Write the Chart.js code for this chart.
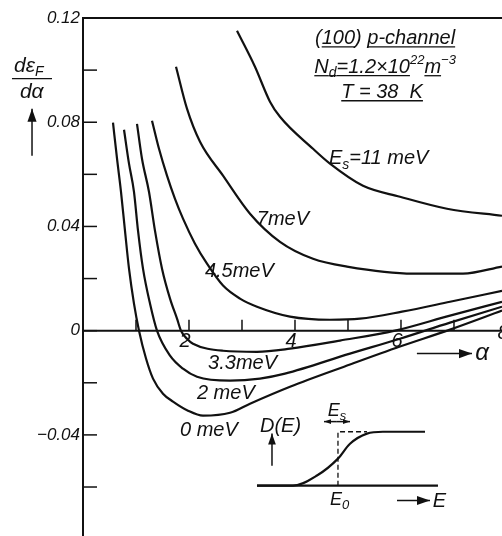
<!DOCTYPE html>
<html>
<head>
<meta charset="utf-8">
<script src="https://cdn.jsdelivr.net/npm/chart.js@4.4.1/dist/chart.umd.min.js"></script>
<style>
html, body { margin: 0; padding: 0; background: #fff; }
#wrap { width: 502px; height: 536px; }
</style>
</head>
<body>
<div id="wrap"><canvas id="chart" width="502" height="536"></canvas></div>
<script>
// d(eps_F)/d(alpha) against alpha, one pair of lists per Es
var alpha0 = [0.566, 0.642, 0.717, 0.792, 0.868, 0.962, 1.057, 1.189, 1.321, 1.509, 1.698, 1.981, 2.264, 2.774, 3.151, 3.906, 5.038, 5.981, 6.925, 7.906];
var slope0 = [0.0798, 0.0660, 0.0533, 0.0384, 0.0238, 0.0104, 0, -0.0107, -0.0184, -0.0242, -0.0272, -0.0307, -0.0326, -0.0315, -0.0280, -0.0215, -0.0130, -0.0061, 0.0004, 0.0077];

var alpha2 = [0.774, 0.868, 0.962, 1.038, 1.132, 1.264, 1.396, 1.642, 1.887, 2.151, 2.774, 3.340, 3.811, 5.038, 5.981, 6.925, 7.906];
var slope2 = [0.0771, 0.0641, 0.0533, 0.0384, 0.0238, 0.0104, 0, -0.0096, -0.0146, -0.0177, -0.0192, -0.0184, -0.0165, -0.0088, -0.0031, 0.0031, 0.0092];

var alpha33 = [1.019, 1.113, 1.245, 1.358, 1.491, 1.642, 1.774, 1.849, 1.962, 2.075, 2.642, 3.283, 3.906, 4.849, 5.887, 6.925, 7.906];
var slope33 = [0.0794, 0.0660, 0.0533, 0.0384, 0.0238, 0.0123, 0.0046, 0, -0.0031, -0.0050, -0.0077, -0.0081, -0.0069, -0.0038, 0, 0.0058, 0.0111];

var alpha45 = [1.302, 1.434, 1.585, 1.736, 1.887, 2.113, 2.340, 2.642, 2.962, 3.283, 3.906, 4.660, 5.226, 6.019, 6.925, 7.906];
var slope45 = [0.0806, 0.0698, 0.0595, 0.0506, 0.0430, 0.0334, 0.0257, 0.0173, 0.0123, 0.0092, 0.0054, 0.0042, 0.0046, 0.0073, 0.0111, 0.0153];

var alpha7 = [1.755, 1.962, 2.208, 2.642, 3.151, 3.717, 4.340, 4.981, 6.226, 7.170, 7.906];
var slope7 = [0.1013, 0.0852, 0.0725, 0.0595, 0.0449, 0.0341, 0.0276, 0.0246, 0.0219, 0.0219, 0.0246];

var alpha11 = [2.906, 3.245, 3.528, 3.717, 4.340, 4.660, 5.283, 5.981, 6.868, 7.906];
var slope11 = [0.1151, 0.1013, 0.0879, 0.0821, 0.0698, 0.0641, 0.0556, 0.0514, 0.0468, 0.0441];

// inset sketch of D(E), drawn in the same units
var insetBaseX = [3.283, 6.698];
var insetBaseY = [-0.0595, -0.0595];
var insetStepX = [3.283, 3.962, 4.415, 4.811, 5.038, 5.358, 5.660, 6.453];
var insetStepY = [-0.0595, -0.0595, -0.0556, -0.0491, -0.0434, -0.0395, -0.0388, -0.0388];
var insetDashX = [4.811, 4.811, 5.358];
var insetDashY = [-0.0595, -0.0388, -0.0388];

var yMajor = [0.12, 0.08, 0.04, 0, -0.04];
var yTickLabels = ['0.12', '0.08', '0.04', '0', '\u22120.04'];
var yMinor = [0.10, 0.06, 0.02, -0.02, -0.06];
var xTicks = [1, 2, 3, 4, 5, 6, 7];
var xLabelTicks = [2, 4, 6, 8];
var xTickLabels = ['2', '4', '6', '8'];

var FONT = '"Liberation Sans", Arial, sans-serif';
var INK = '#111';

function pts(xs, ys) {
    return xs.map(function (x, i) { return { x: x, y: ys[i] }; });
}

function curve(xs, ys) {
    return {
        data: pts(xs, ys),
        showLine: true,
        borderColor: INK,
        borderWidth: 2.2,
        pointRadius: 0,
        cubicInterpolationMode: 'monotone',
        fill: false
    };
}

var insetBase = curve(insetBaseX, insetBaseY);
insetBase.cubicInterpolationMode = 'default';
insetBase.tension = 0;
var insetDash = curve(insetDashX, insetDashY);
insetDash.cubicInterpolationMode = 'default';
insetDash.tension = 0;
insetDash.borderWidth = 1.3;
insetDash.borderDash = [5, 3];

var figure = {
    id: 'figure',
    afterDatasetsDraw: function (chart) {
        var c = chart.ctx, area = chart.chartArea;
        var xs = chart.scales.x, ys = chart.scales.y;
        function X(v) { return xs.getPixelForValue(v); }
        function Y(v) { return ys.getPixelForValue(v); }

        function rich(parts, x, y, align) {
            var w = 0;
            parts.forEach(function (p) {
                c.font = 'italic ' + p[1] + 'px ' + FONT;
                w += c.measureText(p[0]).width;
            });
            var cx = align === 'center' ? x - w / 2 : x;
            parts.forEach(function (p) {
                c.font = 'italic ' + p[1] + 'px ' + FONT;
                var pw = c.measureText(p[0]).width;
                c.fillText(p[0], cx, y + (p[2] || 0));
                if (p[3]) {
                    c.lineWidth = 1.3;
                    c.beginPath(); c.moveTo(cx, y + 3); c.lineTo(cx + pw, y + 3); c.stroke();
                }
                cx += pw;
            });
        }

        function arrow(x1, y1, x2, y2, head) {
            var a = Math.atan2(y2 - y1, x2 - x1);
            c.lineWidth = 1.5;
            c.beginPath(); c.moveTo(x1, y1); c.lineTo(x2, y2); c.stroke();
            c.beginPath();
            c.moveTo(x2, y2);
            c.lineTo(x2 - head * Math.cos(a) + head * 0.35 * Math.sin(a), y2 - head * Math.sin(a) - head * 0.35 * Math.cos(a));
            c.lineTo(x2 - head * Math.cos(a) - head * 0.35 * Math.sin(a), y2 - head * Math.sin(a) + head * 0.35 * Math.cos(a));
            c.closePath(); c.fill();
        }

        c.save();
        c.strokeStyle = INK;
        c.fillStyle = INK;
        c.textBaseline = 'alphabetic';

        // left axis and top edge
        c.lineWidth = 2;
        c.beginPath();
        c.moveTo(area.left, area.bottom);
        c.lineTo(area.left, area.top);
        c.lineTo(area.right, area.top);
        c.stroke();
        // alpha axis along zero
        c.beginPath(); c.moveTo(area.left, Y(0)); c.lineTo(area.right, Y(0)); c.stroke();

        c.lineWidth = 1.5;
        yMajor.concat(yMinor).forEach(function (v) {
            c.beginPath(); c.moveTo(area.left, Y(v)); c.lineTo(area.left + 14, Y(v)); c.stroke();
        });
        xTicks.forEach(function (v) {
            c.beginPath(); c.moveTo(X(v), Y(0)); c.lineTo(X(v), Y(0) - 11); c.stroke();
        });

        c.font = 'italic 17px ' + FONT;
        c.textAlign = 'right';
        c.textBaseline = 'middle';
        yMajor.forEach(function (v, i) { c.fillText(yTickLabels[i], area.left - 3, Y(v)); });
        c.font = 'italic 20px ' + FONT;
        c.textAlign = 'center';
        c.textBaseline = 'top';
        xLabelTicks.forEach(function (v, i) {
            c.fillText(xTickLabels[i], X(v) - 4, Y(0) + (v === 8 ? -7 : 1));
        });
        c.textAlign = 'left';
        c.textBaseline = 'alphabetic';

        // y axis title: d eps_F / d alpha
        rich([['d\u03b5', 21], ['F', 14, 4]], X(-1.30), Y(0.0994), 'left');
        c.lineWidth = 1.3;
        c.beginPath(); c.moveTo(X(-1.34), Y(0.0967)); c.lineTo(X(-0.585), Y(0.0967)); c.stroke();
        rich([['d\u03b1', 21]], X(-1.19), Y(0.0894), 'left');
        arrow(X(-0.962), Y(0.0671), X(-0.962), Y(0.0852), 13);

        // alpha arrow
        arrow(X(6.30), Y(-0.0088), X(7.34), Y(-0.0088), 13);
        rich([['\u03b1', 24]], X(7.40), Y(-0.0111), 'left');

        // header
        var hx = X(5.70);
        rich([['(', 20], ['100', 20, 0, 1], [') ', 20], ['p-channel', 20, 0, 1]], hx, Y(0.1101), 'center');
        rich([['N', 20, 0, 1], ['d', 14, 4, 1], ['=1.2\u00d710', 20, 0, 1], ['22', 13, -9], ['m', 20, 0, 1], ['\u22123', 13, -9]], hx, Y(0.0990), 'center');
        rich([['T = 38  K', 20, 0, 1]], hx - 3, Y(0.0894), 'center');

        // curve labels
        rich([['E', 20], ['s', 14, 5], ['=11 meV', 20]], X(4.64), Y(0.0641), 'left');
        rich([['7meV', 20]], X(3.28), Y(0.0407), 'left');
        rich([['4.5meV', 20]], X(2.30), Y(0.0207), 'left');
        rich([['3.3meV', 20]], X(2.36), Y(-0.0146), 'left');
        rich([['2 meV', 20]], X(2.15), Y(-0.0261), 'left');
        rich([['0 meV', 20]], X(1.83), Y(-0.0403), 'left');

        // inset labels
        rich([['D(E)', 20]], X(3.34), Y(-0.0388), 'left');
        arrow(X(3.566), Y(-0.0518), X(3.566), Y(-0.0395), 11);
        rich([['E', 18], ['s', 13, 4]], X(4.62), Y(-0.0326), 'left');
        arrow(X(4.79), Y(-0.0349), X(4.547), Y(-0.0349), 7);
        arrow(X(4.79), Y(-0.0349), X(5.038), Y(-0.0349), 7);
        rich([['E', 18], ['0', 13, 4]], X(4.66), Y(-0.0668), 'left');
        arrow(X(5.925), Y(-0.0652), X(6.547), Y(-0.0652), 13);
        rich([['E', 20]], X(6.60), Y(-0.0675), 'left');

        c.restore();
    }
};

var chart = new Chart(document.getElementById('chart').getContext('2d'), {
    type: 'scatter',
    data: {
        datasets: [
            curve(alpha0, slope0),
            curve(alpha2, slope2),
            curve(alpha33, slope33),
            curve(alpha45, slope45),
            curve(alpha7, slope7),
            curve(alpha11, slope11),
            insetBase,
            curve(insetStepX, insetStepY),
            insetDash
        ]
    },
    options: {
        responsive: false,
        animation: false,
        layout: { padding: { left: 83, top: 18, right: 0, bottom: 0 } },
        scales: {
            x: { type: 'linear', min: 0, max: 7.906, display: false },
            y: { type: 'linear', min: -0.0788, max: 0.12, display: false }
        },
        plugins: { legend: { display: false }, tooltip: { enabled: false } }
    },
    plugins: [figure]
});
</script>
</body>
</html>
